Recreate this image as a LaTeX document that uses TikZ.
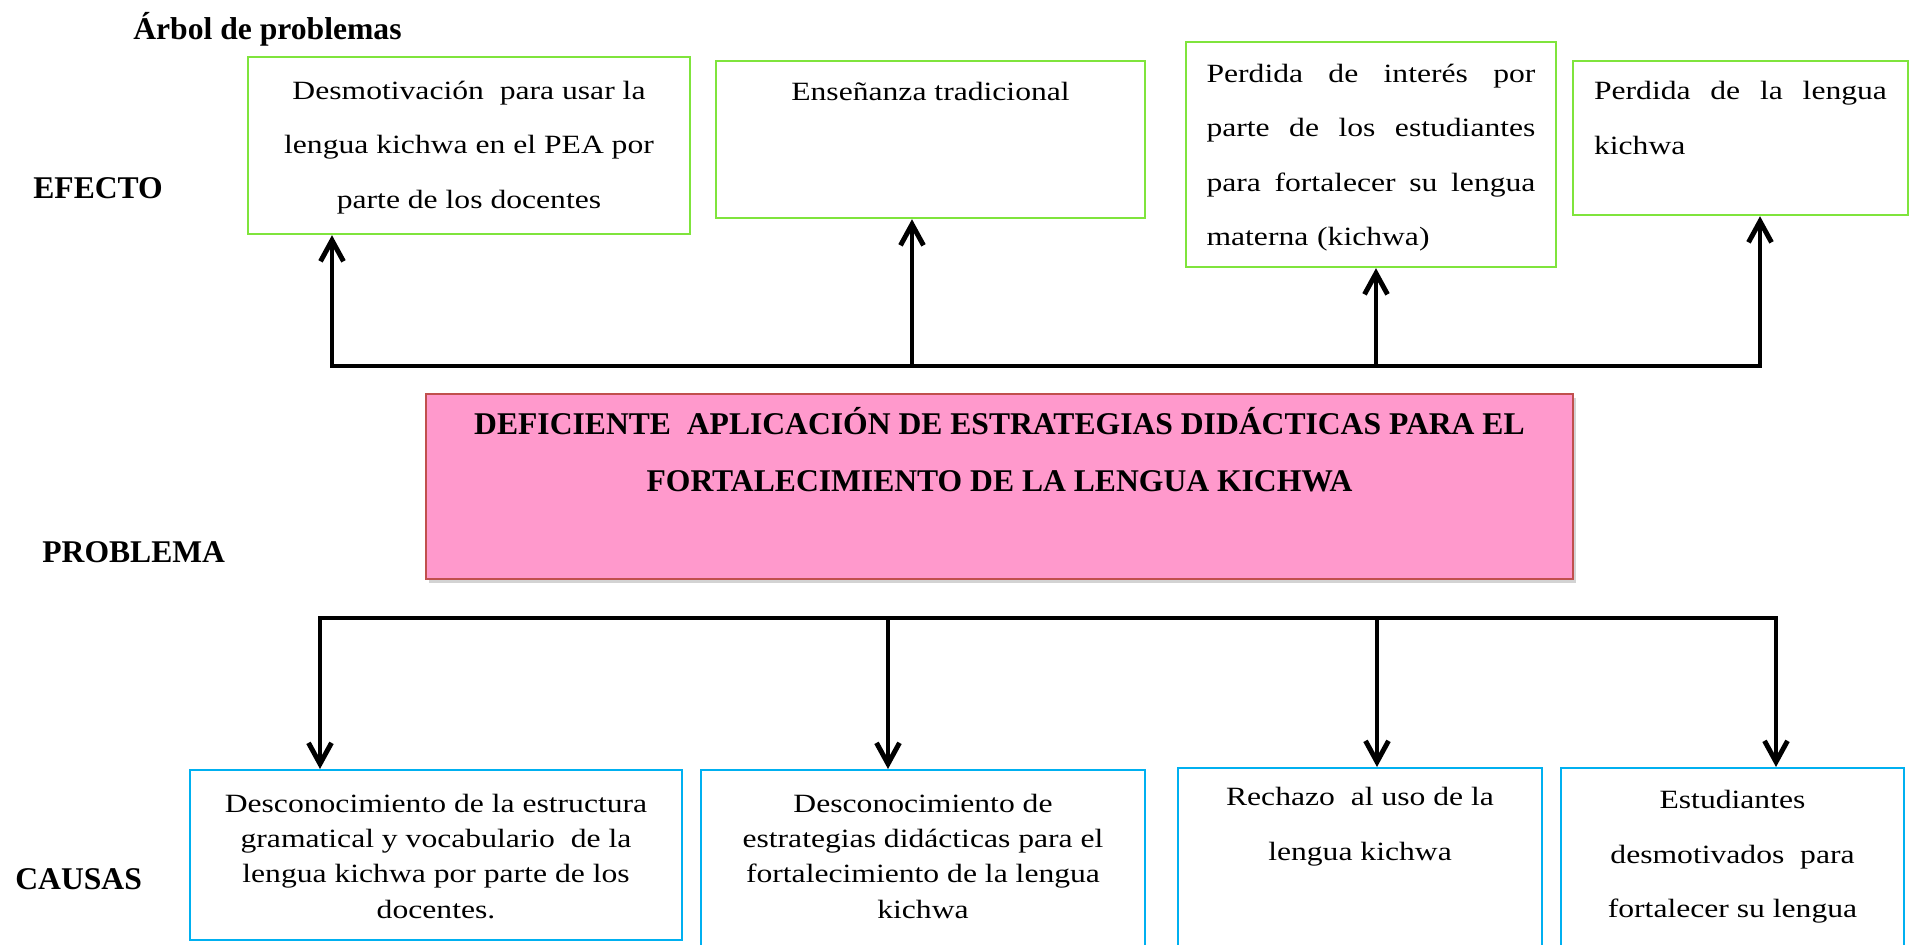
\documentclass[tikz,border=0pt]{standalone}
\usepackage{fontspec}
\setmainfont[FakeStretch=1.2]{Liberation Serif}
\newfontfamily\labelfont{Liberation Serif}
\usetikzlibrary{positioning,arrows.meta,shadows}
\definecolor{effgreen}{RGB}{127,228,60}
\definecolor{caublue}{RGB}{0,176,240}
\definecolor{probpink}{RGB}{255,153,204}
\definecolor{probred}{RGB}{192,80,77}
\begin{document}
\begin{tikzpicture}[x=0.02cm, y=-0.02cm,
  eff box/.style={rectangle,draw=effgreen,line width=1.4pt,inner sep=0pt},
  cau box/.style={rectangle,draw=caublue,line width=1.2pt,inner sep=0pt},
  prob box/.style={rectangle,draw=probred,line width=1pt,fill=probpink,inner sep=0pt,
    drop shadow={shadow xshift=1.5pt,shadow yshift=-2pt,opacity=0.35}},
  box text/.style={inner sep=0pt,align=center,font=\fontsize{15}{31}\selectfont},
  side label/.style={inner sep=0pt,anchor=base west,font=\labelfont\fontsize{18}{21}\selectfont\bfseries},
  branch/.style={line width=2.8pt},
  tip/.tip={Straight Barb[length=4.2mm,width=4.6mm]}]
\path[use as bounding box, clip] (0,0) rectangle (1910,944);

\begin{scope}
\node[side label] (titulo) at (133,39) {Árbol de problemas};
\node[side label] (efecto) at (33,198) {EFECTO};
\node[side label] (problema) at (42,562) {PROBLEMA};
\node[side label] (causas) at (15,889) {CAUSAS};
\end{scope}

%efectos
\node[eff box, minimum width=8.84cm, minimum height=3.54cm] (eff1) at (469,145.5) {};
\node[eff box, minimum width=8.58cm, minimum height=3.14cm] (eff2) at (930.5,139.5) {};
\node[eff box, minimum width=7.4cm, minimum height=4.5cm] (eff3) at (1371,154.5) {};
\node[eff box, minimum width=6.7cm, minimum height=3.08cm] (eff4) at (1740.5,138) {};
\node[box text, below=0.5cm of eff1.north] (eff1t) {Desmotivación\ \ para usar la\\lengua kichwa en el PEA por\\parte de los docentes};
\node[box text, below=0.44cm of eff2.north] (eff2t) {Enseñanza tradicional};
\node[box text, align=left, text width=6.58cm, below=0.46cm of eff3.north] (eff3t) {Perdida\hfill de\hfill interés\hfill por\\parte\hfill de\hfill los\hfill estudiantes\\para\hfill fortalecer\hfill su\hfill lengua\\materna (kichwa)};
\node[box text, align=left, text width=5.86cm, below=0.43cm of eff4.north] (eff4t) {Perdida\hfill de\hfill la\hfill lengua\\kichwa};

%problema
\node[prob box, minimum width=22.94cm, minimum height=3.7cm] (prob) at (999.5,486.5) {};
\node[box text, font=\labelfont\fontsize{18}{32.3}\selectfont\bfseries, below=0.28cm of prob.north] (probt) {DEFICIENTE\ \ APLICACIÓN DE ESTRATEGIAS DIDÁCTICAS PARA EL\\FORTALECIMIENTO DE LA LENGUA KICHWA};

%causas
\node[cau box, minimum width=9.84cm, minimum height=3.4cm] (cau1) at (436,855) {};
\node[cau box, minimum width=8.88cm, minimum height=3.8cm] (cau2) at (923,865) {};
\node[cau box, minimum width=7.28cm, minimum height=3.84cm] (cau3) at (1360,864) {};
\node[cau box, minimum width=6.86cm, minimum height=3.84cm] (cau4) at (1732.5,864) {};
\node[box text, font=\fontsize{15}{20}\selectfont, below=0.5cm of cau1.north] (cau1t) {Desconocimiento de la estructura\\gramatical y vocabulario\ \ de la\\lengua kichwa por parte de los\\docentes.};
\node[box text, font=\fontsize{15}{20}\selectfont, below=0.5cm of cau2.north] (cau2t) {Desconocimiento de\\estrategias didácticas para el\\fortalecimiento de la lengua\\kichwa};
\node[box text, below=0.4cm of cau3.north] (cau3t) {Rechazo\ \ al uso de la\\lengua kichwa};
\node[box text, below=0.46cm of cau4.north] (cau4t) {Estudiantes\\desmotivados\ \ para\\fortalecer su lengua};

\coordinate (tbl) at (332,366);
\coordinate (tb2) at (912,366);
\coordinate (tb3) at (1376,366);
\coordinate (tbr) at (1760,366);
\coordinate (bbl) at (320,618);
\coordinate (bb2) at (888,618);
\coordinate (bb3) at (1377,618);
\coordinate (bbr) at (1776,618);

\begin{scope}[branch]
\draw[tip-tip] (tbl |- eff1.south) -- (tbl) -- (tbr) -- (tbr |- eff4.south);
\draw[-tip] (tb2) -- (tb2 |- eff2.south);
\draw[-tip] (tb3) -- (tb3 |- eff3.south);
\draw[tip-tip] (bbl |- cau1.north) -- (bbl) -- (bbr) -- (bbr |- cau4.north);
\draw[-tip] (bb2) -- (bb2 |- cau2.north);
\draw[-tip] (bb3) -- (bb3 |- cau3.north);
\end{scope}
\end{tikzpicture}
\end{document}
